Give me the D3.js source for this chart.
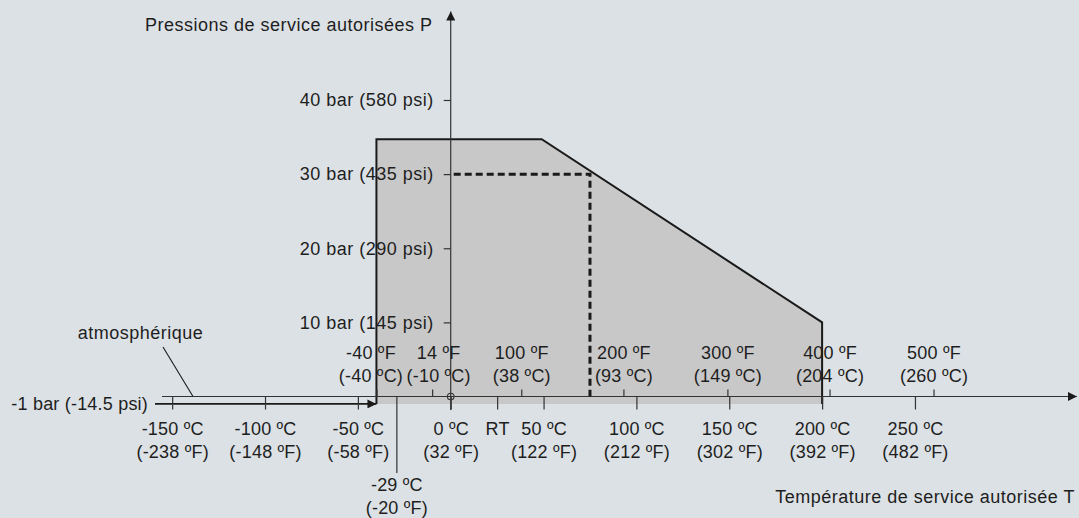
<!DOCTYPE html>
<html>
<head>
<meta charset="utf-8">
<script src="https://cdn.jsdelivr.net/npm/d3@7"></script>
<style>
  html, body { margin: 0; padding: 0; background: #dce1e5; }
  svg { display: block; }
  svg text { font-family: "Liberation Sans", Arial, sans-serif; font-size: 18px; letter-spacing: 0.5px; fill: #1e1e1e; }
  svg .tick text { letter-spacing: 0.2px; }
</style>
</head>
<body>
<svg id="chart" width="1079" height="518"></svg>
<script>
// pressure / temperature envelope (T in °C, P in bar)
const envelopeT = [-40, -40, 49, 200, 200];
const envelopeP = [-1, 34.7, 34.7, 10, -1];

// rated point marked with dashed lines
const ratedT = [0, 75, 75];
const ratedP = [30, 30, 0];

const minTemp = -29;
const atmPressure = -1;

const celsiusTicks = [-150, -100, -50, 0, 50, 100, 150, 200, 250];
const celsiusLabels = ['-150 ºC', '-100 ºC', '-50 ºC', '0 ºC', '50 ºC', '100 ºC', '150 ºC', '200 ºC', '250 ºC'];
const celsiusSubLabels = ['(-238 ºF)', '(-148 ºF)', '(-58 ºF)', '(32 ºF)', '(122 ºF)', '(212 ºF)', '(302 ºF)', '(392 ºF)', '(482 ºF)'];

const fahrenheitTicks = [-40, -10, 38, 93, 149, 204, 260]; // positions in °C
const fahrenheitLabels = ['-40 ºF', '14 ºF', '100 ºF', '200 ºF', '300 ºF', '400 ºF', '500 ºF'];
const fahrenheitSubLabels = ['(-40 ºC)', '(-10 ºC)', '(38 ºC)', '(93 ºC)', '(149 ºC)', '(204 ºC)', '(260 ºC)'];

const pressureTicks = [10, 20, 30, 40];
const pressureLabels = ['10 bar (145 psi)', '20 bar (290 psi)', '30 bar (435 psi)', '40 bar (580 psi)'];

const roomTemp = 25;

(function () {
  const svg = d3.select('#chart');
  const ink = '#1a1a1a';
  const axisInk = '#333';

  const x = d3.scaleLinear().domain([-160, 335]).range([153.6, 1072.8]);
  const y = d3.scaleLinear().domain([0, 40]).range([396.5, 100]);

  const x0 = x(0);
  const y0 = y(0);

  // the two leftmost fahrenheit labels sit close together, push them apart
  const fLabelNudge = { '-40': -6, '-10': 6 };

  // d3 axes put font attrs on the group, drop them so the css applies
  const plainAxis = (g) => {
    g.attr('font-size', null).attr('font-family', null);
    g.select('.domain').remove();
    g.selectAll('.tick line').attr('stroke', axisInk).attr('stroke-width', 1.2);
  };

  const defs = svg.append('defs');
  defs.append('marker')
    .attr('id', 'arrow')
    .attr('viewBox', '0 0 10 10')
    .attr('refX', 10).attr('refY', 5)
    .attr('markerWidth', 9).attr('markerHeight', 9)
    .attr('markerUnits', 'userSpaceOnUse')
    .attr('orient', 'auto')
    .append('path')
    .attr('d', 'M0,0 L10,5 L0,10 Z')
    .attr('fill', ink);

  // envelope polygon
  const pts = envelopeT.map((t, i) => [x(t), y(envelopeP[i])]);
  svg.append('path')
    .attr('d', d3.line()(pts) + 'Z')
    .attr('fill', '#c8c8c8')
    .attr('stroke', 'none');
  svg.append('path')
    .attr('d', d3.line()(pts))
    .attr('fill', 'none')
    .attr('stroke', ink)
    .attr('stroke-width', 2);

  // atmospheric (-1 bar) line with arrow
  svg.append('line')
    .attr('x1', 155).attr('x2', x(envelopeT[0]))
    .attr('y1', y(atmPressure)).attr('y2', y(atmPressure))
    .attr('stroke', ink).attr('stroke-width', 1.6)
    .attr('marker-end', 'url(#arrow)');

  // x axis (0 bar)
  svg.append('line')
    .attr('x1', 162).attr('x2', 1077)
    .attr('y1', y0).attr('y2', y0)
    .attr('stroke', axisInk).attr('stroke-width', 1.2)
    .attr('marker-end', 'url(#arrow)');

  // y axis
  svg.append('line')
    .attr('x1', x0).attr('x2', x0)
    .attr('y1', 410).attr('y2', 11.5)
    .attr('stroke', axisInk).attr('stroke-width', 1.2)
    .attr('marker-end', 'url(#arrow)');

  // dashed rated lines
  svg.append('path')
    .attr('d', d3.line()(ratedT.map((t, i) => [t === 0 ? x0 + 3 : x(t), y(ratedP[i])])))
    .attr('fill', 'none')
    .attr('stroke', ink)
    .attr('stroke-width', 3)
    .attr('stroke-dasharray', '7,4');

  // celsius axis (below)
  const cAxis = svg.append('g')
    .attr('transform', `translate(0,${y0})`)
    .call(d3.axisBottom(x).tickValues(celsiusTicks).tickSize(13).tickFormat(''))
    .call(plainAxis);
  cAxis.selectAll('.tick').each(function (d, i) {
    const g = d3.select(this);
    g.select('text').remove();
    const t = g.append('text').attr('text-anchor', 'middle');
    t.append('tspan').attr('x', 0).attr('y', 38).text(celsiusLabels[i]);
    t.append('tspan').attr('x', 0).attr('y', 61).text(celsiusSubLabels[i]);
  });

  // room temperature tick
  const rtAxis = svg.append('g')
    .attr('transform', `translate(0,${y0})`)
    .call(d3.axisBottom(x).tickValues([roomTemp]).tickSize(13).tickFormat(''))
    .call(plainAxis);
  rtAxis.selectAll('.tick text').remove();
  rtAxis.select('.tick').append('text')
    .attr('text-anchor', 'middle').attr('y', 38).text('RT');

  // fahrenheit axis (above)
  const fAxis = svg.append('g')
    .attr('transform', `translate(0,${y0})`)
    .call(d3.axisTop(x).tickValues(fahrenheitTicks).tickSize(7).tickFormat(''))
    .call(plainAxis);
  fAxis.selectAll('.tick').each(function (d, i) {
    const g = d3.select(this);
    g.select('text').remove();
    const dx = fLabelNudge[d] || 0;
    const t = g.append('text').attr('text-anchor', 'middle');
    t.append('tspan').attr('x', dx).attr('y', -38).text(fahrenheitLabels[i]);
    t.append('tspan').attr('x', dx).attr('y', -15).text(fahrenheitSubLabels[i]);
  });

  // pressure axis
  svg.append('g')
    .attr('transform', `translate(${x0},0)`)
    .call(d3.axisLeft(y).tickValues(pressureTicks).tickSize(7).tickPadding(10)
      .tickFormat((d, i) => pressureLabels[i]))
    .call(plainAxis)
    .selectAll('.tick text').style('letter-spacing', '0.5px');

  // origin circle
  svg.append('circle')
    .attr('cx', x0).attr('cy', y0).attr('r', 3.3)
    .attr('fill', 'none').attr('stroke', axisInk).attr('stroke-width', 1.1);

  // minimum temperature marker
  svg.append('line')
    .attr('x1', x(minTemp)).attr('x2', x(minTemp))
    .attr('y1', y0).attr('y2', 473)
    .attr('stroke', axisInk).attr('stroke-width', 1.2);
  const mt = svg.append('text').attr('text-anchor', 'middle').style('letter-spacing', '0.2px');
  mt.append('tspan').attr('x', x(minTemp)).attr('y', 491).text('-29 ºC');
  mt.append('tspan').attr('x', x(minTemp)).attr('y', 514).text('(-20 ºF)');

  // -1 bar label
  svg.append('text')
    .attr('x', 148).attr('y', y(atmPressure) + 6)
    .attr('text-anchor', 'end')
    .style('letter-spacing', '0.2px')
    .text('-1 bar (-14.5 psi)');

  // atmospheric annotation
  svg.append('text')
    .attr('x', 140.5).attr('y', 339)
    .attr('text-anchor', 'middle')
    .text('atmosphérique');
  svg.append('line')
    .attr('x1', 163).attr('y1', 347)
    .attr('x2', 193).attr('y2', y0)
    .attr('stroke', ink).attr('stroke-width', 1.1);

  // axis titles
  svg.append('text')
    .attr('x', 145).attr('y', 31)
    .text('Pressions de service autorisées P');
  svg.append('text')
    .attr('x', 1075).attr('y', 503)
    .attr('text-anchor', 'end')
    .text('Température de service autorisée T');
})();
</script>
</body>
</html>
